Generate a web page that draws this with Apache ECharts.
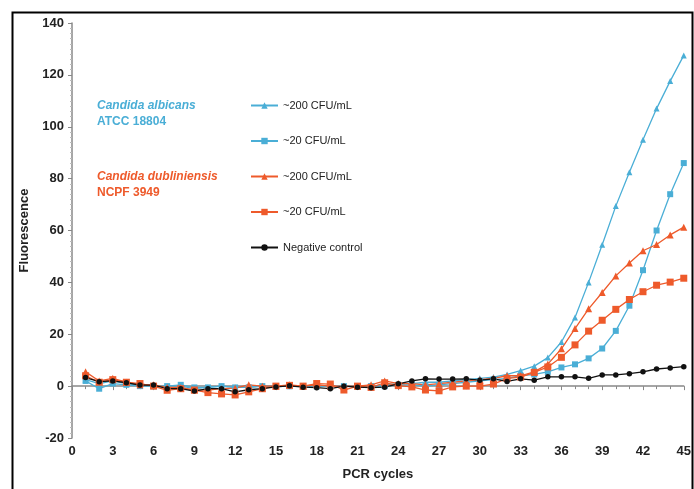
<!DOCTYPE html>
<html>
<head>
<meta charset="utf-8">
<script src="https://cdn.jsdelivr.net/npm/echarts@6/dist/echarts.min.js"></script>
<style>
  html, body { margin: 0; padding: 0; background: #fff; }
  #chart { width: 694px; height: 489px; }
</style>
</head>
<body>
<div id="chart"></div>
<script>
// PCR cycles 1..45
const cycles = Array.from({ length: 45 }, (_, i) => i + 1);

const albicans200 = [2.5, 1, 2, 1, 0.5, 0, 0, 0, -1, -0.5, 0, -0.5, -0.5, 0, 0, 0, 0, 0, 0, 0, 0, 0, 0.5, 1, 1, 1.5, 1.5, 2, 2.5, 3, 3.5, 4.5, 6, 7.7, 11, 17, 26.5, 40, 54.5, 69.4, 82.5, 95, 107, 117.6, 127.5];
const albicans20 = [2, -1, 1, 0.5, 0, 0, 0, 0.5, -0.5, -0.5, 0, -0.5, -0.5, 0, 0, 0, 0, 0, 0, 0, 0, 0, 0, 0.5, 0.5, 0, 0.5, 1, 1.5, 2, 2.5, 3, 4, 4.5, 5.5, 7.2, 8.4, 10.7, 14.5, 21.3, 31, 44.7, 60, 74, 86];
const dubli200 = [5.5, 2, 3, 1.5, 0.5, 0.5, -0.5, -0.5, -1.5, -1.5, -1, -0.8, 0.5, 0, 0, 0.5, 0, 0.5, 0, 0, 0, 0.5, 2, 1, 1, 0.5, 1, 1.5, 2, 2.5, 3, 4, 4, 5.5, 8.5, 14.4, 22.2, 29.8, 36.1, 42.5, 47.5, 52.2, 54.6, 58.3, 61.3];
const dubli20 = [4, 1.5, 2.5, 1.5, 1, 0, -1.6, -1, -1.5, -2.5, -3, -3.4, -2.2, -1, 0, 0.3, 0, 1, 0.8, -1.5, 0, -0.5, 1.3, 0.2, -0.3, -1.5, -1.8, -0.3, 0, 0, 0.8, 3, 3.5, 5.3, 7.4, 11.1, 15.9, 21.2, 25.4, 29.6, 33.4, 36.4, 38.9, 40.1, 41.6];
const negative = [3.3, 1.7, 2, 1.3, 0.4, 0.4, -1, -1, -1.9, -1, -1, -2.2, -1.4, -1, -0.3, 0.1, -0.4, -0.6, -1, 0, -0.4, -0.6, -0.4, 0.9, 2, 2.8, 2.7, 2.7, 2.8, 2.3, 2.8, 1.8, 2.8, 2.3, 3.6, 3.6, 3.6, 3, 4.3, 4.3, 4.8, 5.5, 6.6, 7, 7.5];

const seriesNames = ['~200 CFU/mL', '~20 CFU/mL', '~200 CFU/mL ', '~20 CFU/mL ', 'Negative control'];

const blue = '#4aaed6';
const orange = '#ee5a2b';
const black = '#111111';

const pair = arr => cycles.map((c, i) => [c, arr[i]]);

const makeSeries = (name, data, color, symbol, size) => ({
  name: name,
  type: 'line',
  data: pair(data),
  symbol: symbol,
  symbolSize: size,
  color: color,
  lineStyle: { width: 1.3, color: color },
  itemStyle: { color: color },
  animation: false
});

const chart = echarts.init(document.getElementById('chart'));
chart.setOption({
  backgroundColor: '#fff',
  grid: { left: 72, right: 10, top: 23, bottom: 51 },
  legend: {
    orient: 'vertical',
    left: 245,
    top: 95,
    itemGap: 24.5,
    itemWidth: 27,
    itemHeight: 8,
    textStyle: { fontSize: 11, color: '#222', fontFamily: 'Liberation Sans' },
    data: seriesNames
  },
  xAxis: {
    type: 'value',
    min: 0,
    max: 45,
    interval: 3,
    name: 'PCR cycles',
    nameLocation: 'middle',
    nameGap: 30,
    nameTextStyle: { fontSize: 13, fontWeight: 'bold', color: '#222', fontFamily: 'Liberation Sans' },
    axisLine: { lineStyle: { color: '#888', width: 1.5 } },
    axisTick: { length: 4, lineStyle: { color: '#888' } },
    minorTick: { show: true, splitNumber: 3, length: 3, lineStyle: { color: '#888' } },
    axisLabel: { fontSize: 13, fontWeight: 'bold', color: '#222', margin: 7, fontFamily: 'Liberation Sans' },
    splitLine: { show: false }
  },
  yAxis: {
    type: 'value',
    min: -20,
    max: 140,
    interval: 20,
    name: 'Fluorescence',
    nameLocation: 'middle',
    nameGap: 40,
    nameTextStyle: { fontSize: 13, fontWeight: 'bold', color: '#222', fontFamily: 'Liberation Sans' },
    axisLine: { show: true, lineStyle: { color: '#888', width: 1.5 } },
    axisTick: { show: true, length: 4, lineStyle: { color: '#888' } },
    minorTick: { show: true, splitNumber: 10, length: 2, lineStyle: { color: '#bbb' } },
    axisLabel: { fontSize: 13, fontWeight: 'bold', color: '#222', margin: 8, fontFamily: 'Liberation Sans' },
    splitLine: { show: false }
  },
  graphic: [
    { type: 'rect', left: 10, top: 10, shape: { width: 680, height: 490 }, style: { fill: 'none', stroke: '#000', lineWidth: 2 }, silent: true },
    { type: 'text', left: 97, top: 100, style: { text: 'Candida albicans', fill: blue, font: 'italic bold 12px "Liberation Sans"' } },
    { type: 'text', left: 97, top: 116, style: { text: 'ATCC 18804', fill: blue, font: 'bold 12px "Liberation Sans"' } },
    { type: 'text', left: 97, top: 171, style: { text: 'Candida dubliniensis', fill: orange, font: 'italic bold 12px "Liberation Sans"' } },
    { type: 'text', left: 97, top: 187, style: { text: 'NCPF 3949', fill: orange, font: 'bold 12px "Liberation Sans"' } }
  ],
  series: [
    makeSeries(seriesNames[0], albicans200, blue, 'triangle', 6),
    makeSeries(seriesNames[1], albicans20, blue, 'rect', 6),
    makeSeries(seriesNames[2], dubli200, orange, 'triangle', 7),
    makeSeries(seriesNames[3], dubli20, orange, 'rect', 7),
    makeSeries(seriesNames[4], negative, black, 'circle', 5.5)
  ]
});
</script>
</body>
</html>
